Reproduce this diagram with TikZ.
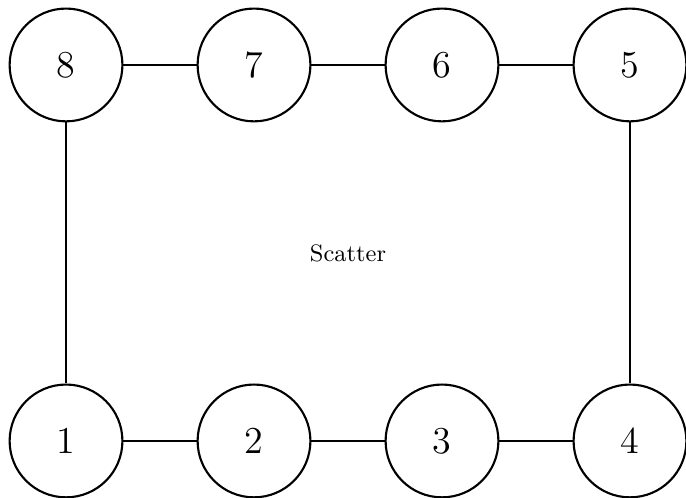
\documentclass[tikz,border=0pt]{standalone}
\begin{document}
\begin{tikzpicture}[
  station/.style={circle, draw, thick, minimum size=1.5cm, inner sep=0pt, font=\Large},
  link/.style={thick}
]
\useasboundingbox (-0.878,-0.758) rectangle (8.245,5.864);
% bottom row
\node[station] (n1) at (0,0) {1};
\node[station] (n2) at (2.5,0) {2};
\node[station] (n3) at (5,0) {3};
\node[station] (n4) at (7.5,0) {4};
% top row
\node[station] (n5) at (7.5,5) {5};
\node[station] (n6) at (5,5) {6};
\node[station] (n7) at (2.5,5) {7};
\node[station] (n8) at (0,5) {8};
\node[font=\small] (label) at (3.75,2.5) {Scatter};
% ring of connections
\draw[link] (n1) -- (n2);
\draw[link] (n2) -- (n3);
\draw[link] (n3) -- (n4);
\draw[link] (n4) -- (n5);
\draw[link] (n5) -- (n6);
\draw[link] (n6) -- (n7);
\draw[link] (n7) -- (n8);
\draw[link] (n8) -- (n1);
\end{tikzpicture}
\end{document}
